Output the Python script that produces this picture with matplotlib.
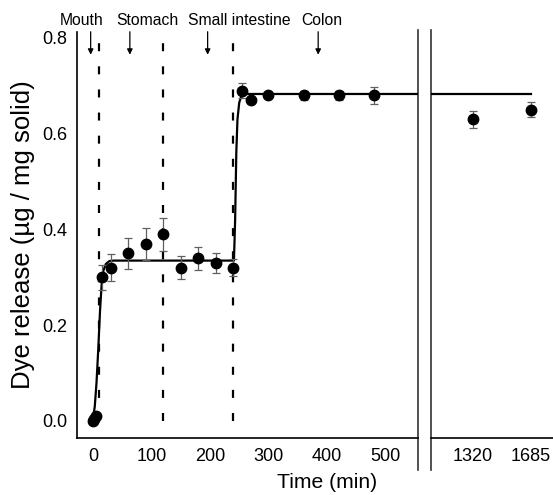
import numpy as np
import matplotlib
matplotlib.use("Agg")
import matplotlib.pyplot as plt

plt.rcParams['font.family'] = ['Liberation Sans', 'DejaVu Sans']

# measured release, early phase (min)
t_left = [0, 2, 5, 15, 30, 60, 90, 120, 150, 180, 210, 240, 255, 270, 300, 360, 420, 480]
release_left = [0.0, 0.005, 0.01, 0.30, 0.32, 0.35, 0.37, 0.39, 0.32, 0.34, 0.33, 0.32,
                0.69, 0.67, 0.68, 0.68, 0.68, 0.68]
err_left = [0.003, 0.003, 0.003, 0.026, 0.028, 0.032, 0.034, 0.035, 0.024, 0.024, 0.02, 0.018,
            0.015, 0.006, 0.006, 0.009, 0.009, 0.018]

# late time points
t_right = [1320, 1685]
release_right = [0.63, 0.65]
err_right = [0.018, 0.016]

# fitted curve
fit_t = [0, 3, 6, 9, 12, 15, 18, 22, 28, 35, 241, 243, 245, 247, 250, 254, 258, 560]
fit_y = [0.005, 0.03, 0.08, 0.15, 0.23, 0.29, 0.315, 0.328, 0.334, 0.335, 0.335,
         0.42, 0.56, 0.63, 0.665, 0.68, 0.683, 0.683]
fit_t_right = [1000, 1685]
fit_y_right = [0.683, 0.683]

# compartment boundaries and labels
boundaries = [10, 120, 240]
region_names = ["Mouth", "Stomach", "Small intestine", "Colon"]
arrow_t = [-4, 63, 196, 385]
label_t = [-20, 93, 251, 392]

fig = plt.figure(figsize=(5.53, 4.95), dpi=100)
ax = fig.add_axes([0.1392, 0.1152, 0.6166, 0.8202])
ax2 = fig.add_axes([0.7794, 0.1152, 0.2206, 0.8202])

ylo, yhi = -0.0355, 0.8125

# left panel
ax.plot(fit_t, fit_y, color='black', lw=1.6, zorder=3)
ax.errorbar(t_left, release_left, yerr=err_left, fmt='o', color='black', ms=7.5,
            ecolor='#606060', elinewidth=0.9, capsize=3, capthick=0.9, zorder=4)
for b in boundaries:
    ax.plot([b, b], [0, 0.8], color='black', lw=1.6, linestyle=(0, (3.6, 6.8)), zorder=2)

for name, at, lt in zip(region_names, arrow_t, label_t):
    ax.annotate('', xy=(at, 0.765), xytext=(at, 0.813),
                arrowprops=dict(arrowstyle='-|>', color='black', lw=0.9, mutation_scale=8,
                                shrinkA=0, shrinkB=0),
                annotation_clip=False)
    ax.text(lt, 0.836, name, ha='center', va='center', fontsize=11.3, clip_on=False)

ax.set_xlim(-27.4, 555.6)
ax.set_ylim(ylo, yhi)
ax.set_xticks([0, 100, 200, 300, 400, 500])
ax.set_yticks([0.0, 0.2, 0.4, 0.6, 0.8])
ax.set_yticklabels(['0.0', '0.2', '0.4', '0.6', '0.8'])
ax.tick_params(length=0, labelsize=13, pad=7)
ax.spines['top'].set_visible(False)
ax.spines['right'].set_visible(False)
for s in ['left', 'bottom']:
    ax.spines[s].set_linewidth(1.2)
ax.plot([1, 1], [-0.078, 1.005], transform=ax.transAxes, color='#333333', lw=1.2, clip_on=False)
ax.set_ylabel('Dye release (µg / mg solid)', fontsize=18.5, labelpad=5)

# right panel
ax2.plot(fit_t_right, fit_y_right, color='black', lw=1.6, zorder=3)
ax2.errorbar(t_right, release_right, yerr=err_right, fmt='o', color='black', ms=7.5,
             ecolor='#606060', elinewidth=0.9, capsize=3, capthick=0.9, zorder=4)
ax2.set_xlim(1055.7, 1823)
ax2.set_ylim(ylo, yhi)
ax2.set_xticks(t_right)
ax2.set_yticks([])
ax2.tick_params(length=0, labelsize=13, pad=7)
for s in ['top', 'right', 'left']:
    ax2.spines[s].set_visible(False)
ax2.spines['bottom'].set_linewidth(1.2)
ax2.plot([0, 0], [-0.078, 1.005], transform=ax2.transAxes, color='#333333', lw=1.2, clip_on=False)

fig.text(0.591, 0.006, 'Time (min)', ha='center', va='bottom', fontsize=15.2)

fig.savefig('out.png', dpi=100)
